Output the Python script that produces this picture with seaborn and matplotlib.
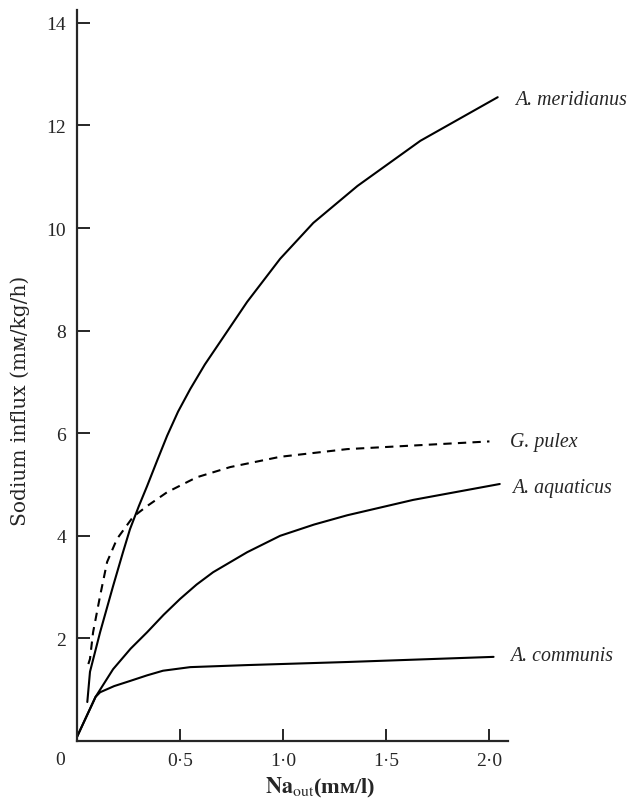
import matplotlib
matplotlib.use("Agg")
import matplotlib.pyplot as plt
import seaborn as sns
import pandas as pd

# values (Na_out in mM/l, influx in mM/kg/h)
x_meridianus = [0.05, 0.063, 0.112, 0.175, 0.223, 0.257, 0.30, 0.34, 0.39, 0.437,
                0.49, 0.549, 0.62, 0.694, 0.825, 0.985, 1.146, 1.36, 1.665, 2.04]
y_meridianus = [0.76, 1.35, 2.12, 3.02, 3.68, 4.13, 4.58, 4.97, 5.48, 5.95,
                6.42, 6.86, 7.34, 7.78, 8.56, 9.40, 10.1, 10.82, 11.70, 12.55]

x_pulex = [0.055, 0.063, 0.078, 0.112, 0.146, 0.194, 0.272, 0.34, 0.437, 0.58,
           0.743, 0.985, 1.31, 1.63, 2.0]
y_pulex = [1.5, 1.6, 2.12, 2.83, 3.49, 3.94, 4.37, 4.58, 4.85, 5.14,
           5.34, 5.54, 5.69, 5.76, 5.84]

x_aquaticus = [0.0, 0.09, 0.175, 0.26, 0.34, 0.42, 0.5, 0.58, 0.66, 0.825, 0.985,
               1.15, 1.31, 1.63, 2.05]
y_aquaticus = [0.08, 0.86, 1.40, 1.80, 2.12, 2.46, 2.77, 3.05, 3.29, 3.68, 4.0,
               4.22, 4.40, 4.70, 5.01]

x_communis = [0.0, 0.09, 0.112, 0.18, 0.257, 0.34, 0.417, 0.549, 0.825, 1.31, 2.02]
y_communis = [0.08, 0.86, 0.95, 1.07, 1.17, 1.28, 1.37, 1.44, 1.48, 1.54, 1.64]

species = ["A. meridianus", "G. pulex", "A. aquaticus", "A. communis"]
label_x = [2.126, 2.10, 2.11, 2.10]
label_y = [12.5, 5.83, 4.95, 1.66]
x_ticks = [0.5, 1.0, 1.5, 2.0]
x_tick_labels = ["0·5", "1·0", "1·5", "2·0"]
y_ticks = [2, 4, 6, 8, 10, 12, 14]

sns.set_style("ticks")
plt.rcParams["font.family"] = ["Liberation Serif", "DejaVu Serif", "DejaVu Sans"]
plt.rcParams["mathtext.fontset"] = "stix"

fig = plt.figure(figsize=(6.3, 8.04), dpi=100)
ax = fig.add_axes([77 / 630, 62 / 804, 431 / 630, 731 / 804])

curves = [(x_meridianus, y_meridianus, "-"),
          (x_pulex, y_pulex, (0, (4, 3))),
          (x_aquaticus, y_aquaticus, "-"),
          (x_communis, y_communis, "-")]
for xs, ys, ls in curves:
    df = pd.DataFrame({"x": xs, "y": ys})
    sns.lineplot(data=df, x="x", y="y", ax=ax, color="black", lw=1.5,
                 linestyle=ls, sort=False, estimator=None)

for name, lx, ly in zip(species, label_x, label_y):
    ax.text(lx, ly, name, fontsize=14.3, style="italic", va="center",
            ha="left", clip_on=False)

ax.set_xlim(0, 2.09)
ax.set_ylim(0, 14.25)
ax.set_xticks(x_ticks)
ax.set_xticklabels(x_tick_labels)
ax.set_yticks(y_ticks)
ax.tick_params(direction="in", length=9, width=1.4, labelsize=14, pad=8)
ax.text(-0.08, -0.37, "0", fontsize=14, ha="center", va="center")

sns.despine(ax=ax)
for s in ["left", "bottom"]:
    ax.spines[s].set_linewidth(1.6)

ax.set_xlabel(r"$\mathbf{Na}_{\mathrm{out}}$(mᴍ/l)", fontsize=16,
              fontweight="bold")
ax.xaxis.set_label_coords(0.565, -0.046)
ax.set_ylabel("Sodium influx (mᴍ/kg/h)", fontsize=14.5,
              family=["DejaVu Serif", "DejaVu Sans"])
ax.yaxis.set_label_coords(-0.109, 0.466)

fig.savefig("out.png", dpi=100)
